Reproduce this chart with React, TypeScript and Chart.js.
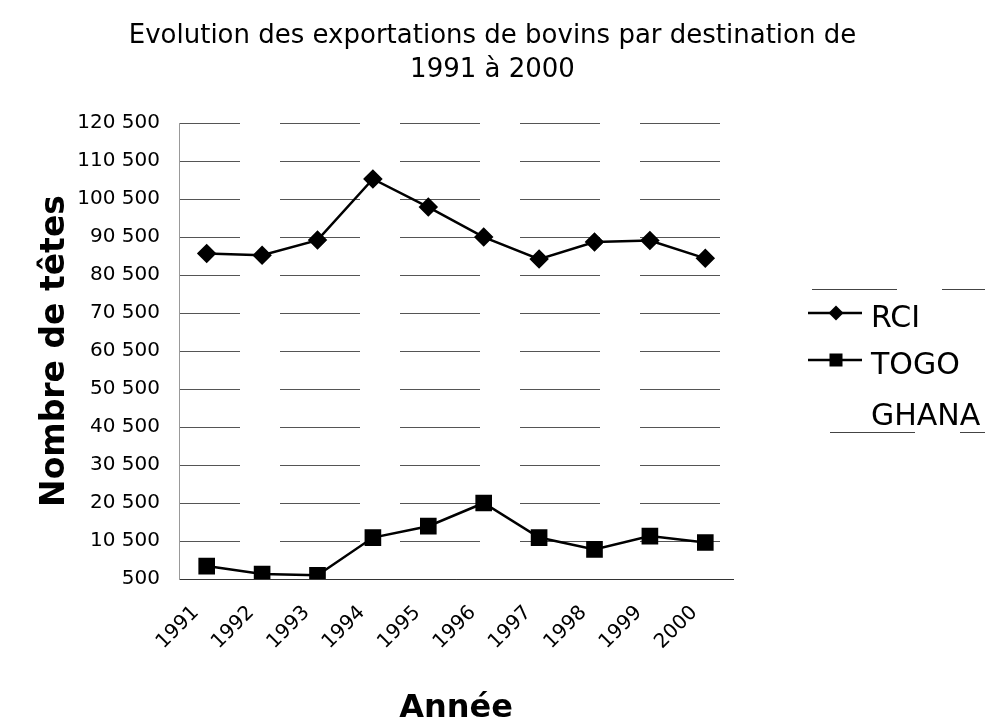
import React, { useEffect, useRef } from 'react';
import { Chart, registerables } from 'chart.js';

Chart.register(...registerables);

// ---- data ----
const years = ['1991', '1992', '1993', '1994', '1995', '1996', '1997', '1998', '1999', '2000'];
const rci = [86200, 85700, 89700, 105800, 98400, 90500, 84700, 89200, 89600, 84900];
const togo = [3900, 1800, 1500, 11400, 14400, 20500, 11400, 8300, 11800, 10100];
// GHANA appears in the legend but its line is not visible in the scan
const ghana: (number | null)[] = [null, null, null, null, null, null, null, null, null, null];
const seriesNames = ['RCI', 'TOGO', 'GHANA'];
const yTicks = [500, 10500, 20500, 30500, 40500, 50500, 60500, 70500, 80500, 90500, 100500, 110500, 120500];
const titleLines = ['Evolution des exportations de bovins par destination de', '1991 à 2000'];
const yTitle = 'Nombre de têtes';
const xTitle = 'Année';

const FONT = '"DejaVu Sans", "Liberation Sans", Arial, sans-serif';

const fmt = (v: number) => String(v).replace(/\B(?=(\d{3})+(?!\d))/g, ' ');

const sideLegend = {
  id: 'sideLegend',
  afterDraw(chart: any) {
    const ctx = chart.ctx as CanvasRenderingContext2D;
    ctx.save();
    // legend frame (only top / bottom edges survive in the scan)
    ctx.strokeStyle = '#444';
    ctx.lineWidth = 1;
    ctx.setLineDash([85, 45]);
    ctx.beginPath();
    ctx.moveTo(812, 289.5);
    ctx.lineTo(985, 289.5);
    ctx.moveTo(830, 432.5);
    ctx.lineTo(985, 432.5);
    ctx.stroke();
    ctx.setLineDash([]);

    const rows = [313, 360, 411];
    chart.data.datasets.forEach((ds: any, i: number) => {
      const y = rows[i];
      const cx = 836;
      ctx.strokeStyle = ds.borderColor;
      ctx.lineWidth = 2.5;
      ctx.beginPath();
      ctx.moveTo(808, y);
      ctx.lineTo(862, y);
      ctx.stroke();
      ctx.fillStyle = ds.pointBackgroundColor;
      if (ds.pointStyle === 'rectRot') {
        const r = 7.5;
        ctx.beginPath();
        ctx.moveTo(cx, y - r);
        ctx.lineTo(cx + r, y);
        ctx.lineTo(cx, y + r);
        ctx.lineTo(cx - r, y);
        ctx.closePath();
        ctx.fill();
      } else if (ds.pointStyle === 'rect') {
        const s = 6.5;
        ctx.fillRect(cx - s, y - s, 2 * s, 2 * s);
      }
      ctx.fillStyle = '#000';
      ctx.font = `30px ${FONT}`;
      ctx.textBaseline = 'middle';
      ctx.textAlign = 'left';
      ctx.fillText(ds.label, 871, y + 6);
    });
    ctx.restore();
  },
};

export default function App() {
  const ref = useRef<HTMLCanvasElement | null>(null);

  useEffect(() => {
    if (!ref.current) return;
    const chart = new Chart(ref.current, {
      type: 'line',
      data: {
        labels: years,
        datasets: [
          {
            label: seriesNames[0],
            data: rci,
            borderColor: '#000',
            backgroundColor: '#000',
            pointBackgroundColor: '#000',
            pointBorderColor: '#000',
            pointStyle: 'rectRot',
            pointRadius: 8,
            borderWidth: 2.5,
            tension: 0,
            yAxisID: 'y',
          },
          {
            label: seriesNames[1],
            data: togo,
            borderColor: '#000',
            backgroundColor: '#000',
            pointBackgroundColor: '#000',
            pointBorderColor: '#000',
            pointStyle: 'rect',
            pointRadius: 10,
            borderWidth: 2.5,
            tension: 0,
            yAxisID: 'y',
          },
          {
            label: seriesNames[2],
            data: ghana,
            borderColor: 'rgba(0,0,0,0)',
            backgroundColor: 'rgba(0,0,0,0)',
            pointBackgroundColor: 'rgba(0,0,0,0)',
            pointStyle: false,
            pointRadius: 0,
            borderWidth: 0,
            yAxisID: 'y',
          },
        ] as any,
      },
      options: {
        responsive: false,
        animation: false,
        devicePixelRatio: 1,
        layout: { padding: 0 },
        plugins: {
          legend: { display: false },
          tooltip: { enabled: false },
          title: {
            display: true,
            text: titleLines,
            color: '#000',
            font: { family: FONT, size: 26, weight: 'normal', lineHeight: 1.29 },
            padding: { top: 19.5, bottom: 36.5 },
          },
        },
        scales: {
          x: {
            type: 'category',
            offset: true,
            grid: { display: false },
            border: { display: true, color: '#333', width: 1, dash: [80, 40], dashOffset: 20 },
            ticks: {
              color: '#000',
              font: { family: FONT, size: 20 },
              maxRotation: 45,
              minRotation: 45,
              autoSkip: false,
              padding: 14,
              labelOffset: -11,
            },
            title: {
              display: true,
              text: xTitle,
              color: '#000',
              font: { family: FONT, size: 32, weight: 'bold', lineHeight: 0.95 },
              padding: { top: 0, bottom: 0 },
            },
            afterFit: (s: any) => {
              s.height = 145;
            },
          },
          y: {
            type: 'linear',
            position: 'left',
            min: 500,
            max: 120500,
            grid: { color: '#555', lineWidth: 1, drawTicks: false },
            border: { display: true, color: '#999', width: 1, dash: [80, 40], dashOffset: 20 },
            afterBuildTicks: (s: any) => {
              s.ticks = yTicks.map((v) => ({ value: v }));
            },
            ticks: {
              color: '#000',
              font: { family: FONT, size: 20 },
              padding: 19,
              callback: (v: any) => fmt(Number(v)),
            },
            title: {
              display: true,
              text: yTitle,
              color: '#000',
              font: { family: FONT, size: 33, weight: 'bold', lineHeight: 1.2 },
              padding: { top: 36, bottom: 0 },
            },
            afterFit: (s: any) => {
              s.width = 179;
            },
          },
          yR: {
            type: 'linear',
            position: 'right',
            display: true,
            grid: { display: false, drawOnChartArea: false },
            border: { display: false },
            ticks: { display: false },
            afterFit: (s: any) => {
              s.width = 252;
            },
          },
        },
      } as any,
      plugins: [sideLegend],
    });
    return () => chart.destroy();
  }, []);

  return (
    <div style={{ position: 'absolute', left: 0, top: 0, width: 985, height: 724, background: '#fff' }}>
      <canvas ref={ref} width={985} height={724} style={{ display: 'block' }} />
    </div>
  );
}
